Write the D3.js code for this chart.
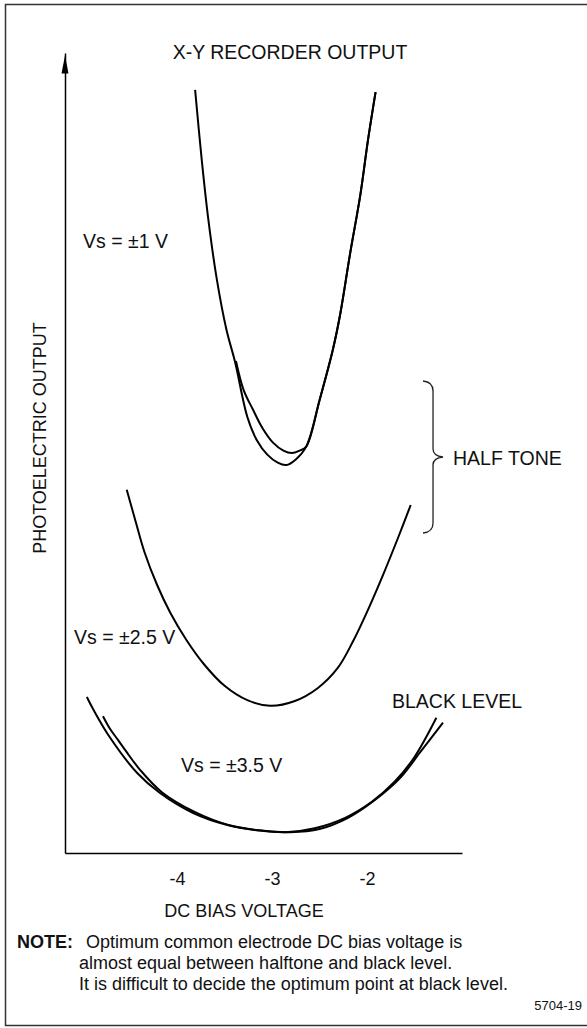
<!DOCTYPE html>
<html>
<head>
<meta charset="utf-8">
<script src="https://cdn.jsdelivr.net/npm/d3@7"></script>
<style>
  html, body { margin: 0; padding: 0; background: #fff; }
  svg { display: block; }
  text { font-family: "Liberation Sans", Arial, Helvetica, sans-serif; fill: #111; }
</style>
</head>
<body>
<script>
// ---------- DATA (x = DC bias voltage [V], y = photoelectric output, arbitrary units 0..100) ----------
const xTickValues = [-4, -3, -2];
const xTickLabels = ["-4", "-3", "-2"];

// Vs = ±1 V (half tone) — two traces
const halfToneA = [
  [-3.81, 95.4], [-3.74, 86.6], [-3.67, 79.1], [-3.58, 71.6], [-3.48, 65.4], [-3.39, 61.4],
  [-3.26, 54.5], [-3.16, 51.6], [-3.05, 49.8], [-2.94, 48.8], [-2.85, 48.5], [-2.75, 49.2],
  [-2.64, 50.8], [-2.50, 56.6], [-2.36, 62.9], [-2.28, 67.5], [-2.18, 74.8], [-2.07, 82.3],
  [-1.99, 89.1], [-1.91, 95.1]
];
const halfToneB = [
  [-3.38, 61.5], [-3.30, 57.9], [-3.20, 55.4], [-3.10, 53.1], [-2.99, 51.3], [-2.88, 50.3],
  [-2.79, 50.0], [-2.71, 50.3], [-2.64, 50.8], [-2.50, 56.6], [-2.36, 62.9], [-2.28, 67.5],
  [-2.18, 74.8], [-2.07, 82.3], [-1.99, 89.1], [-1.91, 95.1]
];
// Vs = ±2.5 V
const midCurve = [
  [-4.53, 45.4], [-4.44, 41.6], [-4.34, 37.5], [-4.21, 33.5], [-4.07, 30.0], [-3.90, 26.6],
  [-3.71, 23.5], [-3.50, 20.9], [-3.26, 19.1], [-3.02, 18.4], [-2.76, 19.0], [-2.52, 20.6],
  [-2.31, 23.1], [-2.15, 26.4], [-1.99, 30.4], [-1.83, 34.8], [-1.67, 39.5], [-1.54, 43.5]
];
// Vs = ±3.5 V (black level) — two traces
const blackA = [
  [-4.95, 19.5], [-4.88, 17.9], [-4.71, 14.5], [-4.42, 10.0], [-4.18, 7.5], [-3.83, 5.0],
  [-3.47, 3.5], [-3.13, 2.8], [-2.86, 2.6], [-2.55, 3.1], [-2.23, 4.4], [-1.95, 6.4],
  [-1.71, 8.9], [-1.50, 12.0], [-1.27, 16.9]
];
const blackB = [
  [-4.78, 17.1], [-4.71, 15.6], [-4.62, 14.1], [-4.53, 12.6], [-4.39, 10.4], [-4.16, 7.6],
  [-3.81, 5.1], [-3.46, 3.5], [-3.11, 2.8], [-2.81, 2.6], [-2.50, 3.0], [-2.20, 4.4],
  [-1.92, 6.6], [-1.65, 9.4], [-1.44, 12.6], [-1.20, 16.3]
];
const curves = [halfToneA, halfToneB, midCurve, blackA, blackB];

// Brace around the half-tone level: x position and y extent (data units)
const braceX = -1.305;
const braceRange = [40.0, 59.0];

// ---------- LAYOUT ----------
const W = 587, H = 1028;
const svg = d3.select("body").append("svg").attr("width", W).attr("height", H);

// outer frame
svg.append("rect").attr("x", 5.5).attr("y", 4.5).attr("width", W + 10).attr("height", 1021)
  .attr("fill", "none").attr("stroke", "#333").attr("stroke-width", 1.5);

const x = d3.scaleLinear().domain([-5.18, -1.0]).range([65, 462]);
const y = d3.scaleLinear().domain([0, 100]).range([853, 53]);

// axes
const xAxis = d3.axisBottom(x).tickValues(xTickValues).tickSize(0).tickFormat((d, i) => xTickLabels[i]);
const gx = svg.append("g").attr("transform", `translate(0,${y(0)})`).call(xAxis);
gx.select(".domain").attr("stroke", "#000").attr("stroke-width", 1.5);
gx.selectAll(".tick text").attr("dy", null).attr("y", 32)
  .style("font-size", "18px").style("font-family", "Liberation Sans, Arial, sans-serif").attr("fill", "#111");

const yAxis = d3.axisLeft(y).tickValues([]).tickSize(0);
const gy = svg.append("g").attr("transform", `translate(${x(-5.18)},0)`).call(yAxis);
gy.select(".domain").attr("stroke", "#000").attr("stroke-width", 1.5);

// arrow head on y axis
const ax = x(-5.18), ay = y(99.7);
svg.append("path")
  .attr("d", `M${ax},${ay} L${ax - 3.5},${ay + 18} L${ax + 3.5},${ay + 18} Z`)
  .attr("fill", "#000");

// curves
const line = d3.line().x(d => x(d[0])).y(d => y(d[1])).curve(d3.curveCatmullRom.alpha(0.5));
svg.append("g").selectAll("path").data(curves).join("path")
  .attr("d", line).attr("fill", "none").attr("stroke", "#000").attr("stroke-width", 2);

// brace
{
  const bx = x(braceX), y0 = y(braceRange[1]), y1 = y(braceRange[0]), ym = (y0 + y1) / 2;
  const p = d3.path();
  p.moveTo(bx - 10, y0);
  p.quadraticCurveTo(bx, y0 + 1, bx, y0 + 10);
  p.lineTo(bx, ym - 8);
  p.quadraticCurveTo(bx, ym - 1, bx + 10, ym);
  p.quadraticCurveTo(bx, ym + 1, bx, ym + 8);
  p.lineTo(bx, y1 - 10);
  p.quadraticCurveTo(bx, y1 - 1, bx - 10, y1);
  svg.append("path").attr("d", p.toString()).attr("fill", "none").attr("stroke", "#222").attr("stroke-width", 1.3);
}

// texts
const T = (s, tx, ty, opts = {}) => {
  const t = svg.append("text").attr("x", tx).attr("y", ty).text(s)
    .style("font-size", (opts.size || 18) + "px")
    .attr("text-anchor", opts.anchor || "start");
  if (opts.bold) t.style("font-weight", "bold");
  if (opts.rotate) t.attr("transform", `rotate(-90,${tx},${ty})`);
  return t;
};
T("X-Y RECORDER OUTPUT", 290, 59, { anchor: "middle", size: 19.5 });
T("Vs = \u00B11 V", 83, 248, { size: 19.5 });
T("HALF TONE", 453, 465, { size: 19.5 });
T("Vs = \u00B12.5 V", 74, 644, { size: 19.5 });
T("BLACK LEVEL", 392, 708, { size: 19.5 });
T("Vs = \u00B13.5 V", 181, 772, { size: 19.5 });
T("PHOTOELECTRIC OUTPUT", 46, 438, { anchor: "middle", rotate: true });
T("DC BIAS VOLTAGE", 244, 917, { anchor: "middle" });
T("NOTE:", 17, 948, { bold: true });
T("Optimum common electrode DC bias voltage is", 86, 948);
T("almost equal between halftone and black level.", 79, 969);
T("It is difficult to decide the optimum point at black level.", 79, 990);
T("5704-19", 582, 1010, { size: 13, anchor: "end" });
</script>
</body>
</html>
